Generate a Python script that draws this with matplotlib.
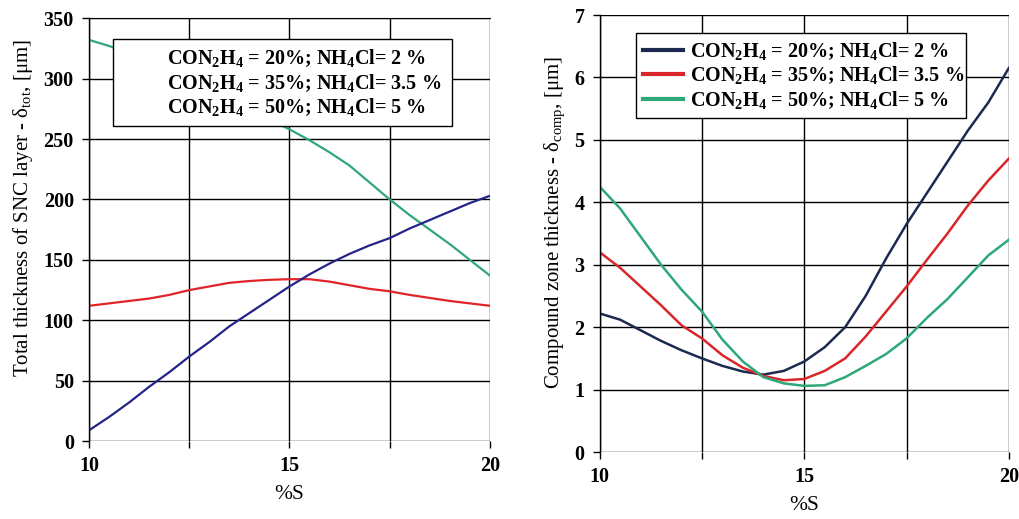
import matplotlib.pyplot as plt
from matplotlib.lines import Line2D

plt.rcParams['font.family'] = 'Liberation Serif'
plt.rcParams['mathtext.fontset'] = 'custom'
plt.rcParams['mathtext.rm'] = 'Liberation Serif'
plt.rcParams['mathtext.bf'] = 'Liberation Serif:bold'
plt.rcParams['mathtext.default'] = 'rm'

# %S values
s = [10, 10.5, 11, 11.5, 12, 12.5, 13, 13.5, 14, 14.5, 15,
     15.5, 16, 16.5, 17, 17.5, 18, 18.5, 19, 19.5, 20]

# total thickness of SNC layer [um]
tot_20 = [9, 20, 32, 45, 57, 70, 82, 95, 106, 117, 128,
          138, 147, 155, 162, 168, 176, 183, 190, 197, 203]
tot_35 = [112, 114, 116, 118, 121, 125, 128, 131, 132.5, 133.5, 134,
          134, 132, 129, 126, 124, 121, 118.5, 116, 114, 112]
tot_50 = [332, 327, 321, 314, 306, 298, 290, 282, 273, 266, 258,
          249, 239, 228, 214, 200, 187, 175, 163, 150, 137]

# compound zone thickness [um]
comp_20 = [2.22, 2.12, 1.95, 1.78, 1.63, 1.5, 1.38, 1.29, 1.24, 1.3, 1.45,
           1.68, 2.0, 2.5, 3.1, 3.65, 4.15, 4.65, 5.15, 5.6, 6.15]
comp_35 = [3.2, 2.95, 2.65, 2.35, 2.03, 1.82, 1.55, 1.35, 1.22, 1.15, 1.17,
           1.3, 1.5, 1.85, 2.25, 2.65, 3.08, 3.5, 3.95, 4.35, 4.7]
comp_50 = [4.25, 3.9, 3.45, 3.0, 2.6, 2.25, 1.8, 1.45, 1.2, 1.1, 1.06,
           1.07, 1.2, 1.38, 1.57, 1.82, 2.15, 2.45, 2.8, 3.15, 3.4]

etiquetas = [r'CON$\mathbf{_2}$H$\mathbf{_4}$ = 20%; NH$\mathbf{_4}$Cl= 2 %',
             r'CON$\mathbf{_2}$H$\mathbf{_4}$ = 35%; NH$\mathbf{_4}$Cl= 3.5 %',
             r'CON$\mathbf{_2}$H$\mathbf{_4}$ = 50%; NH$\mathbf{_4}$Cl= 5 %']

fig = plt.figure(figsize=(10.2, 5.19), dpi=100)
ax1 = fig.add_axes([0.0873, 0.150, 0.393, 0.815])
ax2 = fig.add_axes([0.588, 0.129, 0.401, 0.842])


def estilo(ax, ymax, ystep, top_line):
    ax.set_xlim(10, 20)
    ax.set_ylim(0, ymax)
    ax.set_xticks([10, 12.5, 15, 17.5, 20])
    ax.set_xticklabels(['10', '', '15', '', '20'])
    ax.set_yticks([ystep * i for i in range(int(round(ymax / ystep)) + 1)])
    ax.grid(True, color='black', linewidth=1)
    ax.tick_params(length=5, width=1, labelsize=14.5, pad=6)
    for lbl in ax.get_xticklabels() + ax.get_yticklabels():
        lbl.set_fontweight('bold')
    ax.spines['right'].set_visible(False)
    ax.spines['top'].set_visible(top_line)
    ax.spines['bottom'].set_visible(False)
    ax.spines['left'].set_linewidth(1)
    ax.set_xlabel('%S', fontsize=15.5, labelpad=6)


# painel esquerdo
ax1.plot(s, tot_50, color='#2fa77a', linewidth=1.6)
ax1.plot(s, tot_35, color='#e0242a', linewidth=1.6)
ax1.plot(s, tot_20, color='#24238a', linewidth=1.6)
estilo(ax1, 350, 50, True)
ax1.set_ylabel(r'Total thickness of SNC layer - δ$_{tot}$, [μm]', fontsize=15)
ax1.yaxis.set_label_coords(-0.135, 0.55)
vazio = [Line2D([], [], color='none') for _ in range(3)]
leg1 = ax1.legend(vazio, etiquetas, loc='upper left', bbox_to_anchor=(0.06, 0.759, 0.845, 0.191),
                  mode='expand', handlelength=1.9, handletextpad=0.4, labelspacing=0.12,
                  borderpad=0.4, fancybox=False, edgecolor='black', framealpha=1, borderaxespad=0,
                  prop={'weight': 'bold', 'size': 14.5})
leg1.get_frame().set_linewidth(1)

# painel direito
l1, = ax2.plot(s, comp_20, color='#1c2a50', linewidth=1.8)
l2, = ax2.plot(s, comp_35, color='#d8262a', linewidth=1.8)
l3, = ax2.plot(s, comp_50, color='#2fa878', linewidth=1.8)
estilo(ax2, 7, 1, False)
ax2.set_ylabel(r'Compound zone thickness - δ$_{comp}$, [μm]', fontsize=15)
ax2.yaxis.set_label_coords(-0.08, 0.526)
leg2 = ax2.legend([l1, l2, l3], etiquetas, loc='upper left', bbox_to_anchor=(0.088, 0.767, 0.807, 0.192),
                  mode='expand', handlelength=2.0, handletextpad=0.35, labelspacing=0.12,
                  borderpad=0.35, borderaxespad=0, fancybox=False, edgecolor='black', framealpha=1,
                  prop={'weight': 'bold', 'size': 14.5})
leg2.get_frame().set_linewidth(1)
for h in leg2.get_lines():
    h.set_linewidth(3)

fig.savefig('out.png', dpi=100)
